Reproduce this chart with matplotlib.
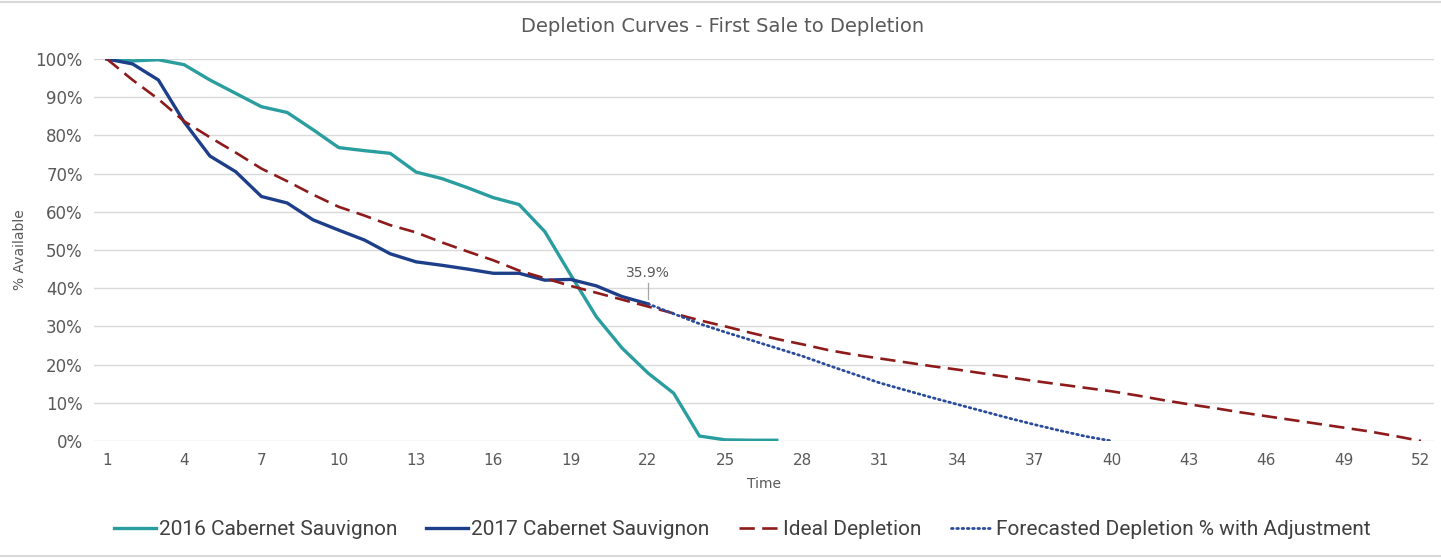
import matplotlib
matplotlib.use('Agg')
import matplotlib.pyplot as plt
from matplotlib.lines import Line2D
from matplotlib.ticker import PercentFormatter

# values (percent available)
time = list(range(1, 53))

time_2016 = list(range(1, 28))
avail_2016 = [100, 99.5, 99.8, 98.5, 94.5, 91, 87.5, 86, 81.5, 76.8, 76, 75.3, 70.4, 68.7,
              66.3, 63.7, 61.9, 54.8, 43.5, 32.5, 24.3, 17.8, 12.5, 1.3, 0.3, 0.2, 0.2]

time_2017 = list(range(1, 23))
avail_2017 = [100, 98.7, 94.5, 83.5, 74.6, 70.5, 64, 62.3, 57.9, 55.2, 52.6, 49, 46.9, 46,
              45, 43.9, 43.9, 42.1, 42.3, 40.6, 37.8, 35.9]

ideal = [100, 94.5, 89.5, 83.7, 79.5, 75.5, 71.3, 68, 64.5, 61.3, 59, 56.5, 54.6, 52, 49.6,
         47.3, 44.6, 42.6, 40.6, 38.8, 37, 35.2, 33.4, 31.6, 30, 28.3, 26.7, 25.3, 23.8, 22.6,
         21.6, 20.6, 19.6, 18.7, 17.7, 16.7, 15.7, 14.8, 13.9, 13, 11.9, 10.7, 9.6, 8.6, 7.5,
         6.5, 5.5, 4.5, 3.5, 2.5, 1.3, 0]

time_fc = list(range(22, 41))
forecast = [35.9, 33.3, 30.7, 28.5, 26.4, 24.3, 22.2, 19.8, 17.5, 15.2, 13.3, 11.4, 9.6,
            7.8, 6.0, 4.3, 2.7, 1.2, 0]

x_ticks = list(range(1, 53, 3))
label_point = (22, 35.9)

grey = '#595959'
c2016 = '#2A9D9F'
c2017 = '#1D3F8A'
cideal = '#8E1B1B'
cfc = '#2B4C9B'

fig = plt.figure(figsize=(14.41, 5.59), dpi=100)
ax = fig.add_axes([0.0652, 0.2111, 0.9298, 0.6834])

ax.plot(time_2016, avail_2016, color=c2016, lw=2.4, solid_joinstyle='round',
        label='2016 Cabernet Sauvignon')
ax.plot(time_2017, avail_2017, color=c2017, lw=2.4, solid_joinstyle='round',
        label='2017 Cabernet Sauvignon')
ax.plot(time, ideal, color=cideal, lw=1.9, dashes=(5.8, 2.8), label='Ideal Depletion')
ax.plot(time_fc, forecast, color=cfc, lw=2.0, linestyle=(0, (0.6, 1.3)),
        dash_capstyle='round', label='Forecasted Depletion % with Adjustment')

# data label with leader line
ax.plot([label_point[0], label_point[0]], [label_point[1] + 1.2, label_point[1] + 5.5],
        color='#A6A6A6', lw=0.9)
ax.text(label_point[0], label_point[1] + 6.3, '35.9%', ha='center', va='bottom',
        fontsize=10, color=grey)

ax.set_xlim(0.5, 52.5)
ax.set_ylim(0, 100)
ax.set_xticks(x_ticks)
ax.set_yticks(range(0, 101, 10))
ax.yaxis.set_major_formatter(PercentFormatter(decimals=0))
ax.tick_params(length=0, labelsize=12, labelcolor=grey, pad=8)
ax.tick_params(axis='x', pad=9, labelsize=11)
ax.grid(axis='y', color='#D9D9D9', lw=1)
ax.set_axisbelow(True)
for s in ax.spines.values():
    s.set_visible(False)

ax.set_xlabel('Time', fontsize=10, color=grey, labelpad=6)
ax.set_ylabel('% Available', fontsize=10, color=grey, labelpad=6)
fig.text(0.5015, 0.952, 'Depletion Curves - First Sale to Depletion', ha='center',
         va='center', fontsize=14, color=grey)

leg = fig.legend(loc='center', bbox_to_anchor=(0.515, 0.052), ncol=4, frameon=False,
                 handlelength=2.0, handletextpad=0.15, columnspacing=1.4,
                 prop={'family': 'Roboto', 'size': 15})
for t in leg.get_texts():
    t.set_color('#404040')

# thin border lines at top and bottom of the chart area
fig.add_artist(Line2D([0, 1], [0.996, 0.996], color='#D9D9D9', lw=1.5))
fig.add_artist(Line2D([0, 1], [0.006, 0.006], color='#D9D9D9', lw=1.5))

fig.savefig('out.png', dpi=100)
